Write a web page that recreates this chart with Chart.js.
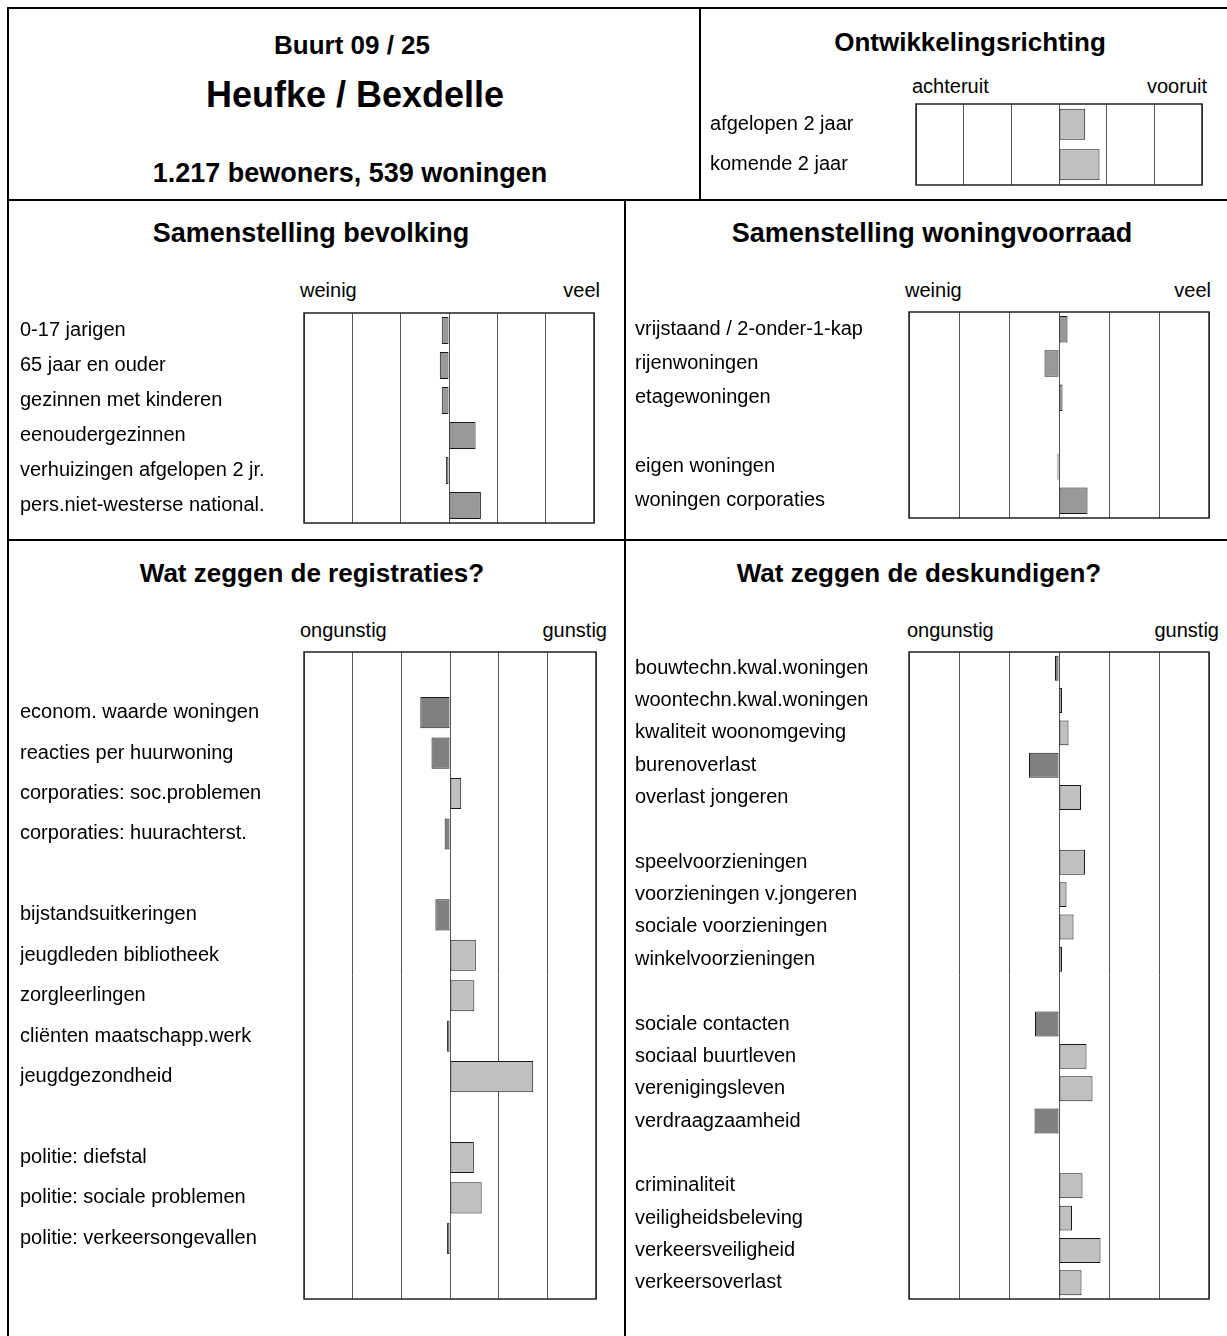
<!DOCTYPE html>
<html>
<head>
<meta charset="utf-8">
<script src="https://cdn.jsdelivr.net/npm/chart.js@4.4.1/dist/chart.umd.min.js"></script>
<style>
  html, body { margin: 0; padding: 0; background: #fff; }
  #page { position: relative; width: 1227px; height: 1336px; overflow: hidden; background: #fff;
          font-family: 'Liberation Sans', Arial, sans-serif; color: #000; }
  .ln { position: absolute; background: #000; }
  .t { position: absolute; white-space: nowrap; transform: translateY(-50%); }
  .c { text-align: center; transform: translate(-50%, -50%); }
  .r { transform: translate(-100%, -50%); }
  .b { font-weight: bold; }
  canvas { position: absolute; }
</style>
</head>
<body>
<div id="page">
  <!-- frame -->
  <div class="ln" style="left:7px;top:7px;width:1220px;height:2px"></div>
  <div class="ln" style="left:7px;top:7px;width:2px;height:1329px"></div>
  <div class="ln" style="left:699px;top:7px;width:2px;height:194px"></div>
  <div class="ln" style="left:7px;top:199px;width:1220px;height:2px"></div>
  <div class="ln" style="left:624px;top:199px;width:2px;height:1137px"></div>
  <div class="ln" style="left:7px;top:539px;width:1220px;height:2px"></div>

  <!-- header texts -->
  <div class="t c b" style="left:352px;top:45px;font-size:26px">Buurt 09 / 25</div>
  <div class="t c b" style="left:355px;top:95px;font-size:36px">Heufke / Bexdelle</div>
  <div class="t c b" style="left:350px;top:173px;font-size:27px">1.217 bewoners, 539 woningen</div>
  <div class="t c b" style="left:970px;top:42px;font-size:26px">Ontwikkelingsrichting</div>
  <div class="t c b" style="left:311px;top:233px;font-size:27px">Samenstelling bevolking</div>
  <div class="t c b" style="left:932px;top:233px;font-size:27px">Samenstelling woningvoorraad</div>
  <div class="t c b" style="left:312px;top:573px;font-size:26px">Wat zeggen de registraties?</div>
  <div class="t c b" style="left:919px;top:573px;font-size:26px">Wat zeggen de deskundigen?</div>

  <!-- scale end labels -->
  <div class="t" style="left:912px;top:86px;font-size:20px">achteruit</div>
  <div class="t r" style="left:1207px;top:86px;font-size:20px">vooruit</div>
  <div class="t" style="left:300px;top:290px;font-size:20px">weinig</div>
  <div class="t r" style="left:600px;top:290px;font-size:20px">veel</div>
  <div class="t" style="left:905px;top:290px;font-size:20px">weinig</div>
  <div class="t r" style="left:1211px;top:290px;font-size:20px">veel</div>
  <div class="t" style="left:300px;top:630px;font-size:20px">ongunstig</div>
  <div class="t r" style="left:607px;top:630px;font-size:20px">gunstig</div>
  <div class="t" style="left:907px;top:630px;font-size:20px">ongunstig</div>
  <div class="t r" style="left:1219px;top:630px;font-size:20px">gunstig</div>

  <canvas id="cOnt"></canvas>
  <canvas id="cBev"></canvas>
  <canvas id="cWon"></canvas>
  <canvas id="cReg"></canvas>
  <canvas id="cDes"></canvas>
</div>
<script>
// ---------- data ----------
const ontLabels = ['afgelopen 2 jaar', 'komende 2 jaar'];
const ontValues = [0.55, 0.85];

const bevLabels = ['0-17 jarigen', '65 jaar en ouder', 'gezinnen met kinderen', 'eenoudergezinnen',
  'verhuizingen afgelopen 2 jr.', 'pers.niet-westerse national.'];
const bevValues = [-0.15, -0.19, -0.15, 0.55, -0.06, 0.66];

const wonLabels = ['vrijstaand / 2-onder-1-kap', 'rijenwoningen', 'etagewoningen', '',
  'eigen woningen', 'woningen corporaties'];
const wonValues = [0.17, -0.29, 0.07, null, -0.03, 0.57];

const regLabels = ['', 'econom. waarde woningen', 'reacties per huurwoning', 'corporaties: soc.problemen',
  'corporaties: huurachterst.', '', 'bijstandsuitkeringen', 'jeugdleden bibliotheek', 'zorgleerlingen',
  'cliënten maatschapp.werk', 'jeugdgezondheid', '', 'politie: diefstal', 'politie: sociale problemen',
  'politie: verkeersongevallen', ''];
const regValues = [null, -0.61, -0.38, 0.23, -0.11, null, -0.30, 0.53, 0.50, -0.06, 1.71, null,
  0.49, 0.65, -0.06, null];

const desLabels = ['bouwtechn.kwal.woningen', 'woontechn.kwal.woningen', 'kwaliteit woonomgeving',
  'burenoverlast', 'overlast jongeren', '', 'speelvoorzieningen', 'voorzieningen v.jongeren',
  'sociale voorzieningen', 'winkelvoorzieningen', '', 'sociale contacten', 'sociaal buurtleven',
  'verenigingsleven', 'verdraagzaamheid', '', 'criminaliteit', 'veiligheidsbeleving',
  'verkeersveiligheid', 'verkeersoverlast'];
const desValues = [-0.08, 0.06, 0.19, -0.60, 0.44, null, 0.52, 0.15, 0.29, 0.06, null,
  -0.48, 0.55, 0.67, -0.49, null, 0.47, 0.26, 0.83, 0.45];

const scaleMin = -3, scaleMax = 3;

// ---------- styling ----------
const DARK = '#808080', MID = '#999999', LIGHT = '#c0c0c0';
const FONT = "'Liberation Sans', Arial, sans-serif";
const PAD = 3;

const framePlugin = {
  id: 'frame',
  afterDraw(chart) {
    const a = chart.chartArea, ctx = chart.ctx;
    ctx.save();
    ctx.strokeStyle = '#222';
    ctx.lineWidth = 1.5;
    ctx.strokeRect(a.left, a.top, a.right - a.left, a.bottom - a.top);
    ctx.restore();
  }
};

function makeChart(id, labels, values, colorFn, geom) {
  const cv = document.getElementById(id);
  const w = Math.round(geom.boxR - geom.labelX + PAD);
  const h = Math.round(geom.boxB - geom.boxT + 2 * PAD);
  cv.width = w; cv.height = h;
  cv.style.width = w + 'px'; cv.style.height = h + 'px';
  cv.style.left = geom.labelX + 'px';
  cv.style.top = Math.round(geom.boxT - PAD) + 'px';
  const axisW = geom.boxL - geom.labelX;
  return new Chart(cv, {
    type: 'bar',
    data: {
      labels: labels,
      datasets: [{
        data: values,
        backgroundColor: ctx => colorFn(ctx.raw),
        borderColor: '#1a1a1a',
        borderWidth: 1,
        borderSkipped: false,
        barPercentage: 0.77,
        categoryPercentage: 1.0
      }]
    },
    options: {
      indexAxis: 'y',
      responsive: false,
      devicePixelRatio: 1,
      animation: false,
      layout: { padding: { left: 0, right: PAD, top: PAD, bottom: PAD } },
      plugins: { legend: { display: false }, tooltip: { enabled: false } },
      scales: {
        x: {
          type: 'linear', min: scaleMin, max: scaleMax,
          ticks: { display: false, stepSize: 1 },
          grid: { color: '#555', lineWidth: 1, drawTicks: false },
          border: { display: false },
          afterFit: s => { s.height = 0; s.paddingLeft = 0; s.paddingRight = 0; }
        },
        y: {
          type: 'category',
          grid: { display: false },
          border: { display: false },
          ticks: {
            autoSkip: false, padding: 0, crossAlign: 'far', color: '#000',
            font: { family: FONT, size: 20 }
          },
          afterFit: s => { s.width = axisW; s.paddingTop = 0; s.paddingBottom = 0; }
        }
      }
    },
    plugins: [framePlugin]
  });
}

const signColor = v => (v < 0 ? DARK : LIGHT);

makeChart('cOnt', ontLabels, ontValues, () => LIGHT,
  { labelX: 710, boxL: 916, boxR: 1202, boxT: 104, boxB: 185 });
makeChart('cBev', bevLabels, bevValues, () => MID,
  { labelX: 20, boxL: 304, boxR: 594, boxT: 313, boxB: 523 });
makeChart('cWon', wonLabels, wonValues, () => MID,
  { labelX: 635, boxL: 909, boxR: 1209, boxT: 312, boxB: 518 });
makeChart('cReg', regLabels, regValues, signColor,
  { labelX: 20, boxL: 304, boxR: 596, boxT: 652, boxB: 1299 });
makeChart('cDes', desLabels, desValues, signColor,
  { labelX: 635, boxL: 909, boxR: 1209, boxT: 652, boxB: 1299 });
</script>
</body>
</html>
